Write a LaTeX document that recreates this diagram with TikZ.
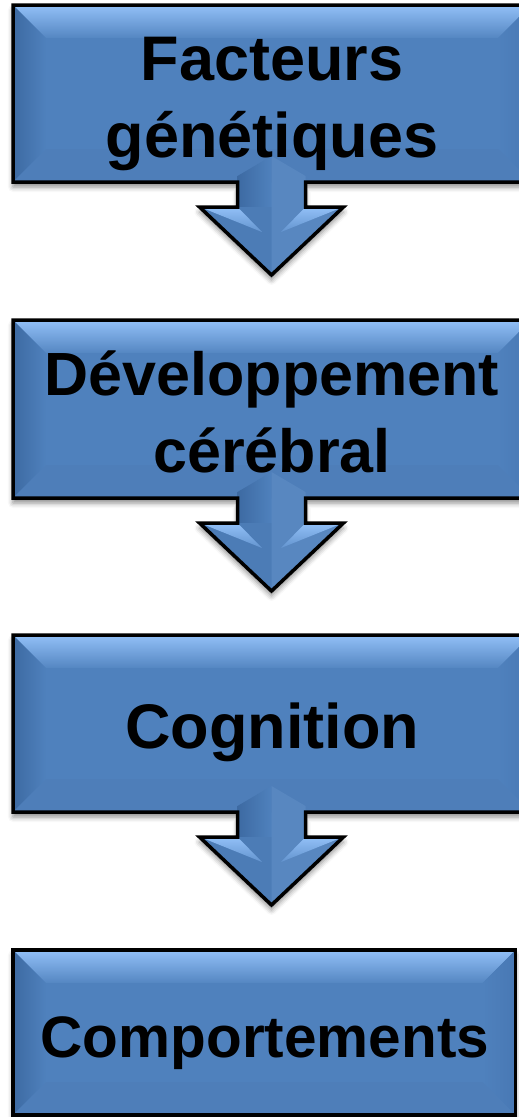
\documentclass[tikz,border=0pt]{standalone}
\usepackage{fontspec}
\setmainfont{Liberation Sans}
\usetikzlibrary{shadows.blur}
\definecolor{boxblue}{HTML}{4F81BD}
\definecolor{bevlight}{HTML}{92C0F7}
\definecolor{bevdark}{HTML}{3D6AA2}
\definecolor{bevmid}{HTML}{4878B4}
\tikzset{
  shapeshadow/.style={blur shadow={shadow xshift=0pt,shadow yshift=-5pt,shadow blur radius=5pt,shadow opacity=45}},
  outline/.style={draw=black,line width=3.5pt,line join=miter},
  label/.style={font=\bfseries\fontsize{#1}{73}\selectfont,text=black,anchor=base,inner sep=0pt},
  label/.default=61,
}
% #1 = right x, #2 = top y, #3 = bottom y
\newcommand{\bevelbands}[3]{%
  \shade[top color=bevlight,bottom color=boxblue!92!bevlight] (13,#2) -- (#1,#2) -- (#1-33,#2+33) -- (46,#2+33) -- cycle;
  \shade[left color=bevdark,right color=boxblue] (13,#2) -- (46,#2+33) -- (46,#3-33) -- (13,#3) -- cycle;
  \shade[left color=boxblue,right color=bevmid] (#1,#2) -- (#1-33,#2+33) -- (#1-33,#3-33) -- (#1,#3) -- cycle;
  \fill[boxblue!98!black] (13,#3) -- (46,#3-33) -- (#1-33,#3-33) -- (#1,#3) -- cycle;
}
% callout box with down arrow: #1 right x, #2 top y, #3 bottom y
\newcommand{\calloutbox}[3]{%
  \pgfmathsetmacro\yh{#3+25}%
  \pgfmathsetmacro\yt{#3+93}%
  \def\callpath{(13,#2) -- (#1,#2) -- (#1,#3) -- (305.5,#3) -- (305.5,\yh) -- (343.5,\yh) -- (271.5,\yt) -- (199.5,\yh) -- (237.5,\yh) -- (237.5,#3) -- (13,#3) -- cycle}%
  \path[fill=boxblue,shapeshadow] \callpath;
  \bevelbands{#1}{#2}{#3}
  % shaft
  \shade[left color=bevdark,right color=boxblue] (237.5,#3-6) -- (271.5,#3-26) -- (271.5,\yh) -- (237.5,\yh) -- cycle;
  \fill[boxblue!95!white] (305.5,#3-6) -- (271.5,#3-26) -- (271.5,\yh) -- (305.5,\yh) -- cycle;
  % head halves
  \fill[boxblue!96!black] (199.5,\yh) -- (271.5,\yh) -- (271.5,\yt) -- cycle;
  \fill[boxblue!95!white] (343.5,\yh) -- (271.5,\yh) -- (271.5,\yt) -- cycle;
  % head top bevels
  \shade[top color=bevlight,bottom color=boxblue!70!bevlight] (200,\yh) -- (237.5,\yh) -- (262,\yh+25) -- cycle;
  \shade[top color=bevlight,bottom color=boxblue!70!bevlight] (343,\yh) -- (305.5,\yh) -- (281,\yh+25) -- cycle;
  \path[outline] \callpath;
}
\begin{document}
\begin{tikzpicture}[x=1pt,y=-1pt]
\useasboundingbox (0,0) rectangle (519,1117);
% box 1 with arrow to box 2
\calloutbox{531}{5}{182}
\node[label=63] (t1a) at (272,80) {Facteurs};
\node[label=63] (t1b) at (272,157) {génétiques};
% box 2 with arrow to box 3
\calloutbox{531}{320}{498}
\node[label=61] (t2a) at (272,395) {Développement};
\node[label=61] (t2b) at (272,472) {cérébral};
% box 3 with arrow to box 4
\calloutbox{531}{635}{812}
\node[label=63] (t3) at (272,748) {Cognition};
% box 4
\path[fill=boxblue,shapeshadow] (13,950) rectangle (515.5,1115);
\bevelbands{515.5}{950}{1115}
\draw[outline] (13,950) rectangle (515.5,1115);
\node[label=58.5] (t4) at (265,1057) {Comportements};
\end{tikzpicture}
\end{document}
